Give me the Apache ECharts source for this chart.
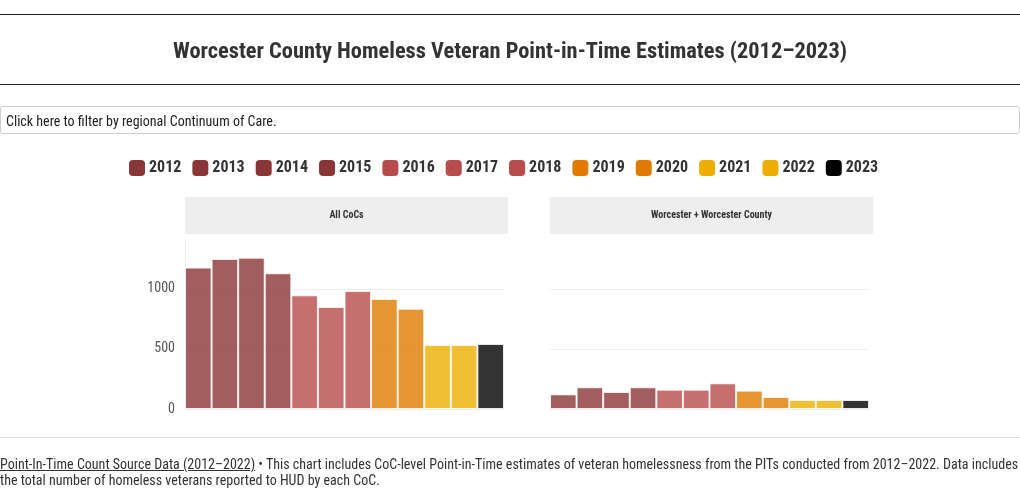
<!DOCTYPE html>
<html><head><meta charset="utf-8">
<script src="https://cdn.jsdelivr.net/npm/echarts@6/dist/echarts.min.js"></script>
<style>
body{margin:0;width:1020px;height:502px;overflow:hidden;background:#fff;font-family:"Roboto Condensed","Liberation Sans Narrow","DejaVu Sans Condensed","Roboto",sans-serif;color:#333;}
#chart{position:absolute;left:0;top:0;width:1020px;height:502px;}
.hl{position:absolute;left:0;width:1020px;height:1px;background:#222;}
#title{position:absolute;left:0;top:37px;width:1020px;text-align:center;font-size:22.4px;font-weight:bold;color:#333;}
#filter{position:absolute;left:0;top:106px;height:28px;border:1px solid #ccc;border-radius:3px;font-size:14px;line-height:29px;padding-left:5px;box-sizing:border-box;width:1020px;color:#222;}
#foot{position:absolute;left:0;top:456px;width:1020px;font-size:14px;line-height:16px;color:#333;}
#foot a{color:#333;text-decoration:underline;}
#fl{position:absolute;left:0;top:437px;width:1020px;height:1px;background:#ddd;}
</style></head><body>
<div id="chart"></div>
<div class="hl" style="top:14px"></div>
<div id="title">Worcester County Homeless Veteran Point-in-Time Estimates (2012–2023)</div>
<div class="hl" style="top:84px"></div>
<div id="filter">Click here to filter by regional Continuum of Care.</div>
<div id="fl"></div>
<div id="foot"><a>Point-In-Time Count Source Data (2012–2022)</a> • This chart includes CoC-level Point-in-Time estimates of veteran homelessness from the PITs conducted from 2012–2022. Data includes the total number of homeless veterans reported to HUD by each CoC.</div>
<script>
const years = ['2012','2013','2014','2015','2016','2017','2018','2019','2020','2021','2022','2023'];
const yearColors = ['#8b3636','#8b3636','#8b3636','#8b3636','#b84b4b','#b84b4b','#b84b4b','#e07b00','#e07b00','#ecaf00','#ecaf00','#000000'];
const panels = ['All CoCs','Worcester + Worcester County'];
const allCoCs = [1178,1250,1261,1131,947,850,983,917,836,533,533,542];
const worcester = [122,181,142,181,161,161,214,153,100,75,75,75];
const yTicks = [0,500,1000];
const panelData = [allCoCs, worcester];

const chart = echarts.init(document.getElementById('chart'));
const FONT = '"Roboto Condensed","Liberation Sans Narrow","DejaVu Sans Condensed","Roboto",sans-serif';
const grids = [{left:185,top:240,width:319,height:169},{left:550,top:240,width:319,height:169}];
const series = [];
panelData.forEach((vals,p)=>{
  years.forEach((y,i)=>{
    series.push({
      name:y,type:'bar',xAxisIndex:p,yAxisIndex:p,stack:'p'+p,
      barWidth:'100%',
      itemStyle:{color:yearColors[i],opacity:0.8,borderColor:'#fff',borderWidth:1},
      emphasis:{disabled:true},
      data:years.map((c,j)=> j===i ? vals[i] : null)
    });
  });
});
chart.setOption({
  animation:false,
  textStyle:{fontFamily:FONT},
  legend:{data:years,top:155,left:124,itemWidth:16,itemHeight:16,itemGap:11,icon:'roundRect',
    itemStyle:{opacity:1,borderWidth:0},
    textStyle:{fontSize:16,fontWeight:'bold',color:'#333',fontFamily:FONT,padding:[0,0,0,-1]}},
  graphic:panels.map((t,p)=>({type:'group',children:[
    {type:'rect',shape:{x:grids[p].left,y:197,width:323,height:37},style:{fill:'#eeeeee'}},
    {type:'text',x:grids[p].left+161.5,y:215.5,style:{text:t,fill:'#333',font:'bold 10px '+FONT,align:'center',verticalAlign:'middle'}}
  ]})),
  grid:grids,
  xAxis:grids.map((g,p)=>({type:'category',gridIndex:p,data:years,axisLine:{show:false},axisTick:{show:false},axisLabel:{show:false}})),
  yAxis:grids.map((g,p)=>({type:'value',gridIndex:p,min:0,max:1408,interval:500,
    axisLine:{show:p===0,lineStyle:{color:'#eee'}},axisTick:{show:false},
    axisLabel:{show:p===0,showMaxLabel:false,fontSize:14,color:'#555',margin:10,fontFamily:FONT,
      formatter:v=>String(v)},
    splitLine:{lineStyle:{color:'#eee'},showMaxLine:false}})),
  series:series
});
</script>
</body></html>
